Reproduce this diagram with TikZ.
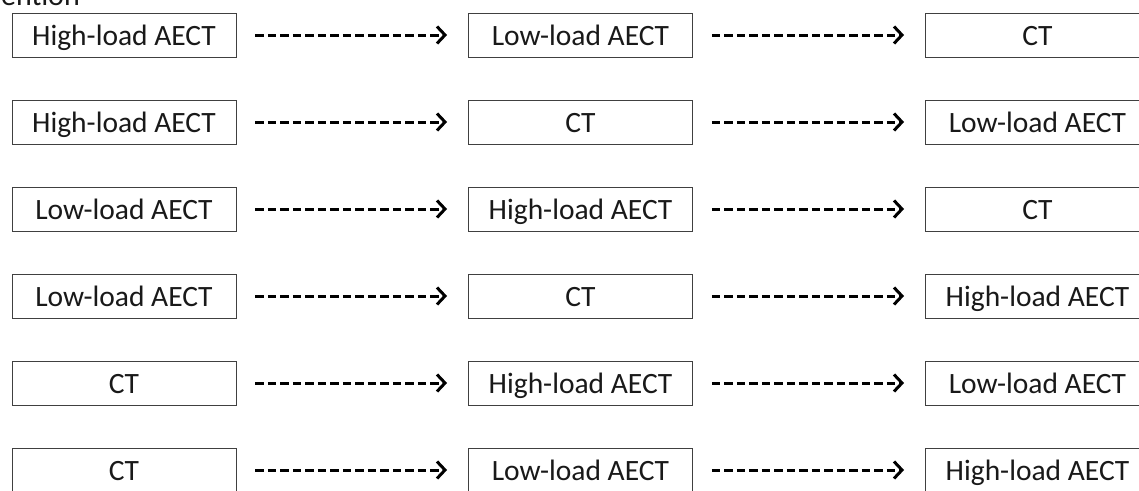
\documentclass[tikz,border=0pt]{standalone}
\usepackage{fontspec}
\setmainfont{Carlito}
\usetikzlibrary{arrows.meta}
\begin{document}
\begin{tikzpicture}[x=1pt,y=-1pt,
  box/.style={draw=black!75, line width=0.9pt, minimum width=224pt, minimum height=44pt, inner sep=0pt, text height=20pt, text depth=0pt, font=\fontsize{29.5}{35}\selectfont, text=black!90},
  flow/.style={line width=3pt, dash pattern=on 8.5pt off 4pt, -{Straight Barb[length=8pt,width=17pt,line width=3pt]}, shorten <=19pt, shorten >=21pt},
  cut/.style={font=\fontsize{30}{36}\selectfont, text=black!90, inner sep=0pt}]
\clip (0,0) rectangle (1139,490);
\fill[white] (0,0) rectangle (1139,490);
\node[cut, anchor=base east] (title) at (80,5.5) {ention};
\foreach \i/\a/\b/\c in {0/High-load AECT/Low-load AECT/CT,
                         1/High-load AECT/CT/Low-load AECT,
                         2/Low-load AECT/High-load AECT/CT,
                         3/Low-load AECT/CT/High-load AECT,
                         4/CT/High-load AECT/Low-load AECT,
                         5/CT/Low-load AECT/High-load AECT}{
  \node[box] (l\i) at (124, 35+87*\i) {\a};
  \node[box] (m\i) at (580.5, 35+87*\i) {\b};
  \node[box] (r\i) at (1037.5, 35+87*\i) {\c};
  \draw[flow] (l\i.east) -- (m\i.west);
  \draw[flow] (m\i.east) -- (r\i.west);
}
\end{tikzpicture}
\end{document}
